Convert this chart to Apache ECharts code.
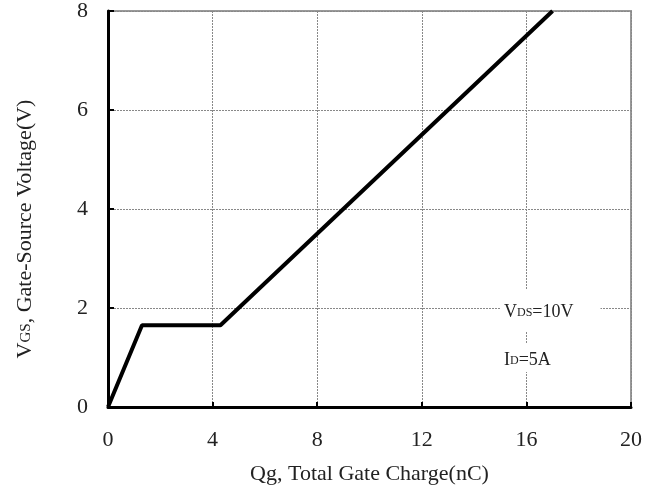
<!DOCTYPE html>
<html>
<head>
<meta charset="utf-8">
<script src="https://cdn.jsdelivr.net/npm/echarts@6/dist/echarts.min.js"></script>
<style>html,body{margin:0;padding:0;background:#fff}#c{width:656px;height:495px}</style>
</head>
<body>
<div id="c"></div>
<script>
// Data
const qg = [0, 1.3, 4.3, 17];          // Total gate charge (nC)
const vgs = [0, 1.65, 1.65, 8];        // Gate-source voltage (V)
const xTicks = [0, 4, 8, 12, 16, 20];
const yTicks = [0, 2, 4, 6, 8];
const annVds = '10V';
const annId = '5A';

const FONT = '"Liberation Serif", "DejaVu Serif", serif';
const chart = echarts.init(document.getElementById('c'), null, {renderer: 'canvas'});

const points = qg.map((x, i) => [x, vgs[i]]);

chart.setOption({
  animation: false,
  backgroundColor: '#fff',
  grid: {
    left: 108, right: 25, top: 9, bottom: 88,
    show: true, borderColor: '#999', borderWidth: 2, backgroundColor: 'transparent'
  },
  xAxis: {
    type: 'value',
    min: xTicks[0], max: xTicks[xTicks.length - 1], interval: xTicks[1] - xTicks[0],
    name: 'Qg, Total Gate Charge(nC)',
    nameLocation: 'middle', nameGap: 56,
    nameTextStyle: {fontFamily: FONT, fontSize: 22, color: '#222'},
    axisLine: {show: true, onZero: false, lineStyle: {color: '#000', width: 3}},
    axisTick: {show: true, inside: true, length: 5, lineStyle: {color: '#000', width: 2}},
    axisLabel: {fontFamily: FONT, fontSize: 22, color: '#222', margin: 22},
    splitLine: {show: true, lineStyle: {color: '#888', width: 1, type: [2, 1]}}
  },
  yAxis: {
    type: 'value',
    min: yTicks[0], max: yTicks[yTicks.length - 1], interval: yTicks[1] - yTicks[0],
    name: '{v|V}{s|GS}{v|, Gate-Source Voltage(V)}',
    nameLocation: 'middle', nameGap: 72, nameRotate: 90,
    nameTextStyle: {
      fontFamily: FONT, fontSize: 22, color: '#222', padding: [0, 40, 0, 0],
      rich: {
        v: {fontFamily: FONT, fontSize: 22, color: '#222', lineHeight: 26, verticalAlign: 'bottom'},
        s: {fontFamily: FONT, fontSize: 15, color: '#222', lineHeight: 26, verticalAlign: 'bottom', padding: [0, 0, 2, 0]}
      }
    },
    axisLine: {show: true, onZero: false, lineStyle: {color: '#000', width: 3}},
    axisTick: {show: true, inside: true, length: 6, lineStyle: {color: '#000', width: 2}},
    axisLabel: {fontFamily: FONT, fontSize: 22, color: '#222', margin: 20},
    splitLine: {show: true, lineStyle: {color: '#888', width: 1, type: [2, 1]}}
  },
  series: [{
    type: 'line',
    data: points,
    showSymbol: false,
    symbol: 'none',
    lineStyle: {color: '#000', width: 4},
    z: 5
  }],
  graphic: [
    {
      type: 'text', left: 500, top: 289, z: 10,
      style: {
        text: '{v|V}{s|DS}{v|=' + annVds + '}',
        backgroundColor: '#fff', padding: [10, 27, 10, 4],
        rich: {
          v: {fontFamily: FONT, fontSize: 18, fill: '#222', lineHeight: 22, verticalAlign: 'bottom'},
          s: {fontFamily: FONT, fontSize: 12, fill: '#222', lineHeight: 22, verticalAlign: 'bottom', padding: [0, 0, 2, 0]}
        }
      }
    },
    {
      type: 'text', left: 500, top: 344, z: 10,
      style: {
        text: '{v|I}{s|D}{v|=' + annId + '}',
        backgroundColor: '#fff', padding: [3, 4, 3, 4],
        rich: {
          v: {fontFamily: FONT, fontSize: 18, fill: '#222', lineHeight: 22, verticalAlign: 'bottom'},
          s: {fontFamily: FONT, fontSize: 12, fill: '#222', lineHeight: 22, verticalAlign: 'bottom', padding: [0, 0, 2, 0]}
        }
      }
    }
  ]
});
</script>
</body>
</html>
